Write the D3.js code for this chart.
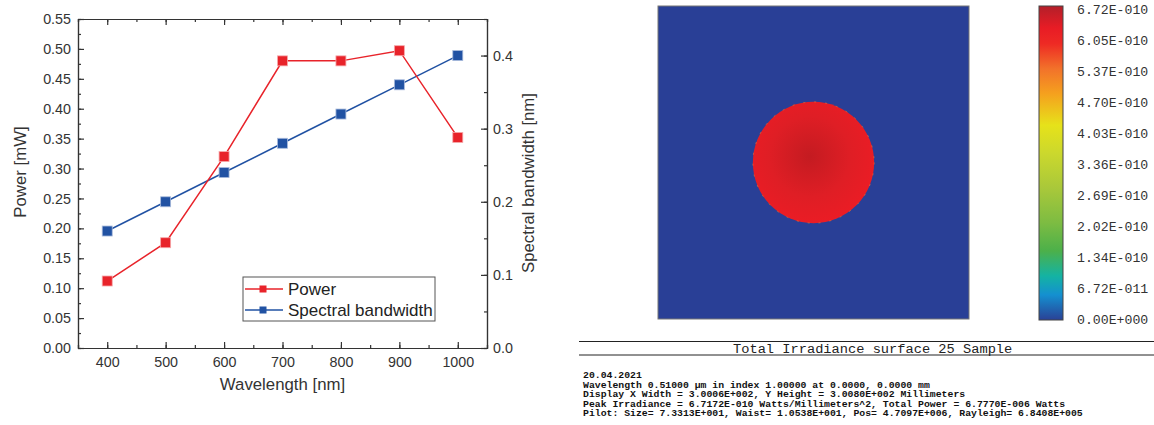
<!DOCTYPE html>
<html>
<head lang="en">
    <meta charset="UTF-8">
    <title>Power, bandwidth and irradiance</title>
    <script type="text/javascript" src="https://cdn.jsdelivr.net/npm/d3@7/dist/d3.min.js"></script>
    <style>
        body { margin: 0; background: #fff; }
        svg { display: block; }
    </style>
</head>
<body>

<svg width="1154" height="425"></svg>

<script>
    // values
    var wavelengths = [400, 500, 600, 700, 800, 900, 1000];
    var power = [0.112, 0.176, 0.320, 0.480, 0.480, 0.497, 0.352];
    var bandwidth = [0.160, 0.200, 0.240, 0.280, 0.320, 0.360, 0.400];

    var xTicks = [400, 500, 600, 700, 800, 900, 1000];
    var powerTicks = d3.range(0, 0.551, 0.05);
    var bwTicks = [0, 0.1, 0.2, 0.3, 0.4];

    var legendNames = ["Power", "Spectral bandwidth"];

    // right panel
    var barLabels = ["6.72E-010", "6.05E-010", "5.37E-010", "4.70E-010", "4.03E-010", "3.36E-010",
        "2.69E-010", "2.02E-010", "1.34E-010", "6.72E-011", "0.00E+000"];
    var barColors = ["#b31f29", "#e81c25", "#ee2a24", "#f2722a", "#f5a11e", "#e6e21a", "#cbd82d",
        "#a9c83a", "#7dbc42", "#4cb04a", "#14b3a3", "#1490d0", "#2a4196"];
    var displayWidth = 300.06;      // mm
    var beam = {cx: 0, cy: 0, r: 58.5};  // mm, spot on the detector
    var headerText = "Total Irradiance surface 25 Sample";
    var infoLines = [
        "20.04.2021",
        "Wavelength 0.51000 \u00b5m in index 1.00000 at 0.0000, 0.0000 mm",
        "Display X Width = 3.0006E+002, Y Height = 3.0080E+002 Millimeters",
        "Peak Irradiance = 6.7172E-010 Watts/Millimeters^2, Total Power = 6.7770E-006 Watts",
        "Pilot: Size= 7.3313E+001, Waist= 1.0538E+001, Pos= 4.7097E+006, Rayleigh= 6.8408E+005"
    ];

    var red = "#e8232a", blue = "#2152a3";
    var svg = d3.select("svg");

    // ---------- left: line chart with two y axes ----------
    var m = {left: 78, top: 19, right: 487, bottom: 348};

    var x = d3.scaleLinear().domain([350, 1050]).range([m.left, m.right]);
    var yP = d3.scaleLinear().domain([0, 0.55]).range([m.bottom, m.top]);
    var yB = d3.scaleLinear().domain([0, 0.45]).range([m.bottom, m.top]);

    var axisColor = "#333";
    var font = "Liberation Sans, Arial, sans-serif";

    function style(g) {
        g.selectAll("path, line").attr("stroke", axisColor).attr("stroke-width", 1.2);
        g.selectAll("text").attr("fill", "#333").style("font-family", font).style("font-size", "14.3px");
    }

    // minor ticks first
    var xMinor = d3.range(350, 1051, 50);
    svg.append("g").attr("transform", "translate(0," + m.bottom + ")")
        .call(d3.axisBottom(x).tickValues(xMinor).tickSize(-3).tickFormat(""))
        .call(style);
    svg.append("g").attr("transform", "translate(0," + m.top + ")")
        .call(d3.axisTop(x).tickValues(xMinor).tickSize(-3).tickFormat(""))
        .call(style);
    svg.append("g").attr("transform", "translate(" + m.left + ",0)")
        .call(d3.axisLeft(yP).tickValues(d3.range(0, 0.551, 0.025)).tickSize(-3).tickFormat(""))
        .call(style);
    svg.append("g").attr("transform", "translate(" + m.right + ",0)")
        .call(d3.axisRight(yB).tickValues(d3.range(0, 0.451, 0.05)).tickSize(-3).tickFormat(""))
        .call(style);

    // major ticks + labels
    svg.append("g").attr("transform", "translate(0," + m.bottom + ")")
        .call(d3.axisBottom(x).tickValues(xTicks).tickSizeInner(-6).tickSizeOuter(0).tickPadding(9)
            .tickFormat(d3.format("d")))
        .call(style);
    svg.append("g").attr("transform", "translate(0," + m.top + ")")
        .call(d3.axisTop(x).tickValues(xTicks).tickSizeInner(-6).tickSizeOuter(0).tickFormat(""))
        .call(style);
    svg.append("g").attr("transform", "translate(" + m.left + ",0)")
        .call(d3.axisLeft(yP).tickValues(powerTicks).tickSizeInner(-6).tickSizeOuter(0).tickPadding(7)
            .tickFormat(d3.format(".2f")))
        .call(style);
    svg.append("g").attr("transform", "translate(" + m.right + ",0)")
        .call(d3.axisRight(yB).tickValues(bwTicks).tickSizeInner(-6).tickSizeOuter(0).tickPadding(6)
            .tickFormat(d3.format(".1f")))
        .call(style);

    // axis titles
    svg.append("text").attr("x", (m.left + m.right) / 2).attr("y", 390)
        .attr("text-anchor", "middle").attr("fill", "#333")
        .style("font-family", font).style("font-size", "16.8px").text("Wavelength [nm]");
    svg.append("text").attr("transform", "translate(26,172) rotate(-90)")
        .attr("text-anchor", "middle").attr("fill", "#333")
        .style("font-family", font).style("font-size", "16.8px").text("Power [mW]");
    svg.append("text").attr("transform", "translate(534,183) rotate(-90)")
        .attr("text-anchor", "middle").attr("fill", "#333")
        .style("font-family", font).style("font-size", "16.8px").text("Spectral bandwidth [nm]");

    // lines and markers
    function series(vals, yScale, color, edge) {
        var pts = wavelengths.map(function (w, i) { return [w, vals[i]]; });
        svg.append("path").datum(pts)
            .attr("fill", "none").attr("stroke", color).attr("stroke-width", 1.5)
            .attr("d", d3.line().x(function (d) { return x(d[0]); }).y(function (d) { return yScale(d[1]); }));
        svg.append("g").selectAll("rect").data(pts).enter().append("rect")
            .attr("x", function (d) { return x(d[0]) - 5; })
            .attr("y", function (d) { return yScale(d[1]) - 5; })
            .attr("width", 10).attr("height", 10)
            .attr("fill", color).attr("stroke", edge).attr("stroke-width", 0.8);
    }
    series(bandwidth, yB, blue, "#a9bbdc");
    series(power, yP, red, "#f6a8aa");

    // legend
    var lg = svg.append("g").attr("transform", "translate(243,277)");
    lg.append("rect").attr("width", 192).attr("height", 44)
        .attr("fill", "#fff").attr("stroke", "#555").attr("stroke-width", 1);
    legendNames.forEach(function (name, i) {
        var yy = 12 + i * 21, c = i === 0 ? red : blue;
        lg.append("line").attr("x1", 2).attr("x2", 40).attr("y1", yy).attr("y2", yy)
            .attr("stroke", c).attr("stroke-width", 1.5);
        lg.append("rect").attr("x", 16.5).attr("y", yy - 3.5).attr("width", 7).attr("height", 7).attr("fill", c);
        lg.append("text").attr("x", 45).attr("y", yy + 6).attr("fill", "#222")
            .style("font-family", font).style("font-size", "17px").text(name);
    });

    // ---------- right: irradiance map ----------
    var img = {x0: 658, x1: 969, y0: 6, y1: 319};
    var sx = d3.scaleLinear().domain([-displayWidth / 2, displayWidth / 2]).range([img.x0, img.x1]);
    var sy = d3.scaleLinear().domain([displayWidth / 2, -displayWidth / 2]).range([img.y0, img.y1]);

    var defs = svg.append("defs");
    var rg = defs.append("radialGradient").attr("id", "spot")
        .attr("cx", "0.47").attr("cy", "0.45").attr("r", "0.6");
    rg.append("stop").attr("offset", "0").attr("stop-color", "#c41b21");
    rg.append("stop").attr("offset", "0.55").attr("stop-color", "#df1e25");
    rg.append("stop").attr("offset", "1").attr("stop-color", "#ed1c25");

    svg.append("rect").attr("x", img.x0).attr("y", img.y0)
        .attr("width", img.x1 - img.x0).attr("height", img.y1 - img.y0)
        .attr("fill", "#293f96").attr("stroke", "#777").attr("stroke-width", 1);
    svg.append("circle").attr("cx", sx(beam.cx)).attr("cy", sy(beam.cy))
        .attr("r", sx(beam.r) - sx(0))
        .attr("fill", "url(#spot)").attr("stroke", "#f0742a").attr("stroke-width", 0.8)
        .attr("stroke-dasharray", "2 9").attr("stroke-opacity", 0.8);

    // colour bar
    var bar = {x: 1039, w: 24, y0: 6, y1: 320};
    var lin = defs.append("linearGradient").attr("id", "bar")
        .attr("x1", 0).attr("x2", 0).attr("y1", 0).attr("y2", 1);
    var stopPos = [0, 0.07, 0.12, 0.2, 0.28, 0.38, 0.47, 0.58, 0.69, 0.78, 0.86, 0.92, 1];
    barColors.forEach(function (c, i) {
        lin.append("stop").attr("offset", stopPos[i]).attr("stop-color", c);
    });
    svg.append("rect").attr("x", bar.x).attr("y", bar.y0).attr("width", bar.w).attr("height", bar.y1 - bar.y0)
        .attr("fill", "url(#bar)").attr("stroke", "#444").attr("stroke-width", 1);

    var ly = d3.scaleLinear().domain([0, barLabels.length - 1]).range([9.3, 319.3]);
    svg.append("g").selectAll("text").data(barLabels).enter().append("text")
        .attr("x", 1077).attr("y", function (d, i) { return ly(i) + 4.5; })
        .attr("fill", "#333").style("font-family", "Liberation Mono, Courier New, monospace")
        .style("font-size", "13.2px").text(function (d) { return d; });

    // header and text block
    svg.append("line").attr("x1", 579).attr("x2", 1154).attr("y1", 341.5).attr("y2", 341.5)
        .attr("stroke", "#222").attr("stroke-width", 1);
    svg.append("line").attr("x1", 579).attr("x2", 1154).attr("y1", 355).attr("y2", 355)
        .attr("stroke", "#222").attr("stroke-width", 1);
    svg.append("text").attr("x", 733).attr("y", 352.5).attr("fill", "#222")
        .style("font-family", "Liberation Mono, Courier New, monospace").style("font-size", "13.7px")
        .text(headerText);

    svg.append("g").selectAll("text").data(infoLines).enter().append("text")
        .attr("x", 583).attr("y", function (d, i) { return 378 + i * 9.6; })
        .attr("fill", "#111").style("font-family", "Liberation Mono, Courier New, monospace")
        .style("font-size", "9.8px").style("font-weight", "bold")
        .text(function (d) { return d; });
</script>
</body>
</html>
